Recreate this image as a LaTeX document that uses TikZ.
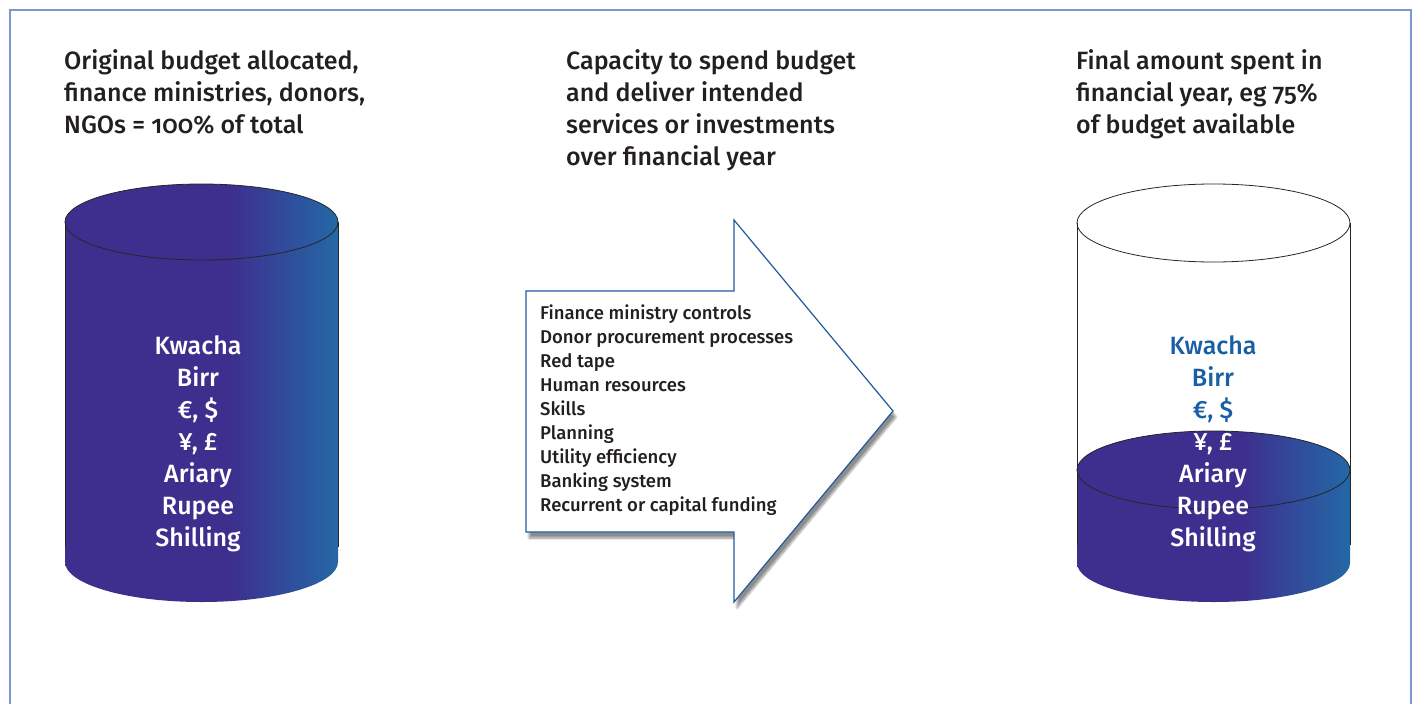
\documentclass[tikz,border=0pt]{standalone}
\usepackage{fontspec}
\setmainfont{Fira Sans Medium}[Numbers=OldStyle, RawFeature={+onum}]
\usetikzlibrary{shadows,shadows.blur}
\definecolor{framecol}{RGB}{125,150,205}
\definecolor{cylpurple}{RGB}{62,46,142}
\definecolor{cylblue}{RGB}{36,104,166}
\definecolor{arrowline}{RGB}{30,90,160}
\definecolor{textblue}{RGB}{25,95,165}
\definecolor{textgrey}{RGB}{35,31,32}
\pgfdeclarehorizontalshading{budget}{100bp}{color(0bp)=(cylpurple); color(55bp)=(cylpurple); color(75bp)=(cylblue); color(100bp)=(cylblue)}
\tikzset{heading/.style={anchor=north west, align=left, inner sep=0pt, text=textgrey, font=\fontsize{25}{32}\selectfont},
  money/.style={align=center, inner sep=0pt, text=white, font=\fontsize{25}{32}\selectfont},
  factor/.style={anchor=west, align=left, inner sep=0pt, text=textgrey, font=\fontsize{18.5}{24}\selectfont},
  outline/.style={draw=black!85, line width=0.8pt}}

\begin{document}
\begin{tikzpicture}[x=1pt,y=-1pt]
    \useasboundingbox (0,0) rectangle (1416,704);
    \draw[framecol, line width=2pt] (10,704) -- (10,10) -- (1411,10) -- (1411,704);

    % headings
    \node[heading] (origtitle)  at (64,49)   {Original budget allocated,\\finance ministries, donors,\\NGOs = 100\% of total};
    \node[heading] (captitle)   at (566,49)  {Capacity to spend budget\\and deliver intended\\services or investments\\over financial year};
    \node[heading] (finaltitle) at (1076,49) {Final amount spent in\\financial year, eg 75\%\\of budget available};

    % full budget
    \path[shading=budget] (65,222) -- (65,562) arc[start angle=180, end angle=0, x radius=136.5, y radius=40]
        -- (338,222) arc[start angle=0, end angle=-180, x radius=136.5, y radius=38] -- cycle;
    \draw[outline] (201.5,222) ellipse[x radius=136.5, y radius=38];
    \draw[outline] (65,222) -- (65,547);
    \draw[outline] (338,222) -- (338,547);
    \node[money] (allmoney) at (198,444) {Kwacha\\Birr\\€, \$\\¥, £\\Ariary\\Rupee\\Shilling};

    % spending capacity
    \draw[arrowline, line width=1.2pt, fill=white, blur shadow={shadow xshift=3pt, shadow yshift=-6pt, shadow blur steps=8, shadow opacity=45}]
        (526,291) -- (734,291) -- (734,220) -- (893,411) -- (734,602) -- (734,532) -- (526,532) -- cycle;
    \node[factor] (factors) at (540,410) {Finance ministry controls\\Donor procurement processes\\Red tape\\Human resources\\Skills\\Planning\\Utility efficiency\\Banking system\\Recurrent or capital funding};

    % amount spent
    \path[shading=budget] (1077,470) -- (1077,563) arc[start angle=180, end angle=0, x radius=136.5, y radius=39]
        -- (1350,470) arc[start angle=0, end angle=-180, x radius=136.5, y radius=39] -- cycle;
    \draw[outline] (1213.5,470) ellipse[x radius=136.5, y radius=39];
    \draw[outline] (1213.5,223) ellipse[x radius=136.5, y radius=39];
    \draw[outline] (1077,223) -- (1077,545);
    \draw[outline] (1350,223) -- (1350,545);
    \node[money] (spentmoney) at (1213,444) {\textcolor{textblue}{Kwacha}\\\textcolor{textblue}{Birr}\\\textcolor{textblue}{€, \$}\\¥, £\\Ariary\\Rupee\\Shilling};
\end{tikzpicture}
\end{document}
